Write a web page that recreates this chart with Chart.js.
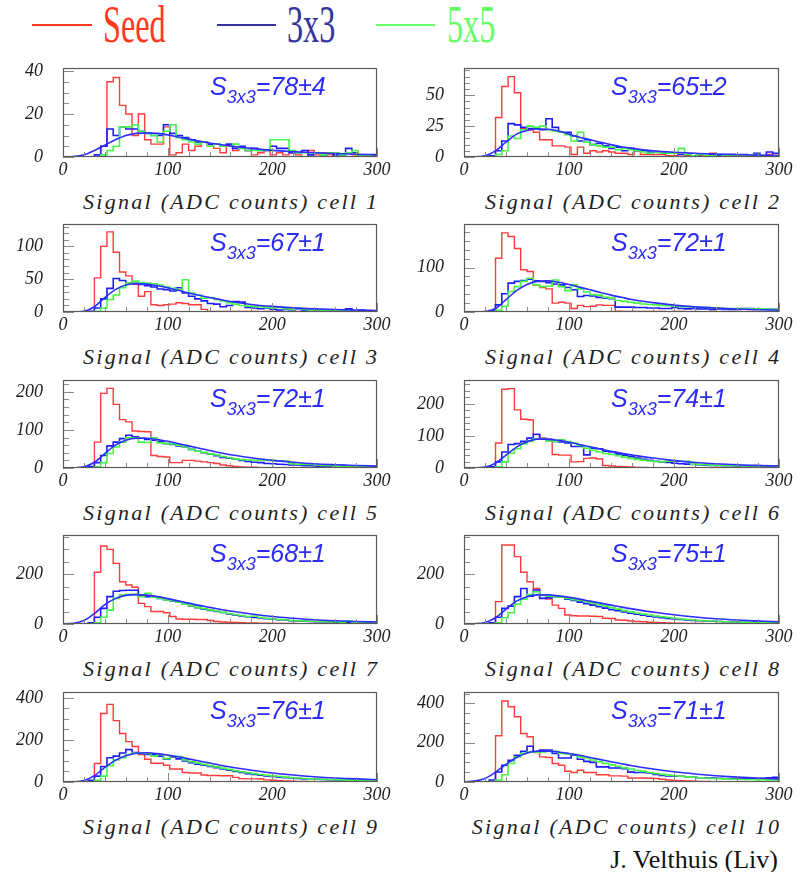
<!DOCTYPE html>
<html>
<head>
<meta charset="utf-8">
<title>Signal distributions, cells 1-10</title>
<script src="https://cdn.jsdelivr.net/npm/chart.js@4.4.1/dist/chart.umd.min.js"></script>
<style>
  html, body { margin: 0; padding: 0; background: #fff; }
  #page { position: relative; width: 799px; height: 872px; overflow: hidden; background: #fff; }
  canvas.panel { position: absolute; }
  .key-line { position: absolute; height: 2px; }
  .key-text { position: absolute; font-family: "Liberation Serif", serif; font-size: 52px; line-height: 52px;
              transform: scaleX(0.62); transform-origin: 0 0; white-space: nowrap; }
  .xtitle { position: absolute; font: italic 22px/22px "Liberation Serif", serif; color: #1e1e1e; white-space: nowrap; }
  .sig { position: absolute; font: italic 25px/25px "Liberation Sans", sans-serif; color: #2b2bf5; white-space: nowrap; }
  .sig .sub { font-size: 18px; position: relative; top: 8px; }
  .credit { position: absolute; font: 26px/26px "Liberation Serif", serif; color: #111; white-space: nowrap; }
</style>
</head>
<body>
<div id="page"></div>
<script>
// Histogram binning: 50 bins of 6 ADC counts from 0 to 300
const binEdges = [];
for (let e = 0; e <= 300; e += 6) binEdges.push(e);

// Sample positions of the fitted 3x3 curve
const fitX = [0,10,20,30,40,50,60,70,80,90,100,110,120,130,140,150,160,180,200,220,240,260,280,300];

// ---- cell 1 ----
const seed1  = [0,0,0,0,0, 0,5,35,37,24, 20,10,20,8,6, 6,14,1,2,6, 3,5,7,5,4, 2,5,3,4,3, 1,2,3,1,2, 1,2,1,0,3, 1,2,1,0,1, 2,1,0,1,0];
const sum3_1 = [0,0,0,0,0, 1,5,13,10,14, 13,13,12,11,10, 10,15,11,10,9, 8,7,7,6,6, 5,6,4,5,3, 4,3,3,5,4, 4,2,2,3,1, 2,1,2,1,1, 4,2,1,1,1];
const sum5_1 = [0,0,0,0,0, 0,1,3,5,14, 14,15,12,11,10, 7,12,15,9,8, 7,6,7,5,6, 5,5,6,4,3, 3,3,3,8,8, 8,3,2,2,2, 2,1,2,2,1, 2,3,1,1,0];
const fit1   = [0,0.2,1,3,5.5,8,10,11,11.2,11,10.3,9.3,8.3,7.4,6.5,5.8,5.1,4,3.1,2.5,2,1.6,1.3,1.1];

// ---- cell 2 ----
const seed2  = [0,0,0,0,0, 32,57,65,52,23, 22,20,14,14,9, 9,8,2,8,3, 5,4,5,4,3, 3,2,5,2,2, 2,2,1,1,2, 1,1,1,1,3, 1,1,2,1,1, 1,1,0,2,1];
const sum3_2 = [0,0,0,0,1, 5,13,27,26,24, 23,23,22,31,24, 20,20,17,13,14, 10,11,9,7,8, 5,7,5,5,4, 4,4,3,3,2, 2,1,2,1,2, 1,2,2,1,2, 1,3,1,4,3];
const sum5_2 = [0,0,0,0,0, 2,5,17,15,22, 25,24,25,22,21, 20,18,13,20,12, 10,9,8,8,6, 7,6,5,4,3, 4,3,3,3,7, 2,1,2,1,1, 2,1,1,1,1, 1,2,1,1,1];
const fit2   = [0,0.1,1,5,12,18.5,21.5,22.7,22.5,21,18.5,16,14,12,10,8.3,7,5,3.8,3,2.3,1.9,1.5,1.2];

// ---- cell 3 ----
const seed3  = [0,0,0,0,0, 52,100,122,91,61, 55,42,24,31,11, 10,11,12,14,13, 11,11,4,1,1, 1,1,1,1,1, 1,0,1,0,1, 0,0,1,0,0, 0,1,0,0,0, 1,0,0,0,0];
const sum3_3 = [0,0,0,0,1, 6,20,36,51,48, 44,46,42,40,38, 35,34,32,37,29, 24,20,17,13,12, 8,10,16,15,7, 6,5,6,4,3, 4,3,5,2,4, 3,2,3,2,2, 5,2,3,2,2];
const sum5_3 = [0,0,0,0,0, 1,6,19,26,37, 44,47,45,44,43, 41,38,36,34,49, 29,26,21,22,19, 17,14,12,10,9, 8,8,7,6,7, 5,4,6,4,3, 3,2,3,2,2, 2,2,1,2,1];
const fit3   = [0,0.1,1,8,22,34,41,43,42.5,40,37,33,29,25.5,22,19,16,11.5,8.5,6.3,4.8,3.7,2.9,2.3];

// ---- cell 4 ----
const seed4  = [0,0,0,0,0, 121,178,170,143,95, 91,60,55,52,20, 22,20,8,15,12, 13,16,15,15,2, 1,1,1,1,1, 1,1,0,1,1, 0,1,0,0,1, 0,0,1,0,0, 1,0,0,0,0];
const sum3_4 = [0,0,0,0,3, 16,41,65,69,71, 74,70,69,66,63, 61,55,50,35,37, 36,33,31,30,11, 11,11,10,10,9, 9,8,8,10,8, 7,8,7,7,6, 7,6,6,6,8, 8,7,7,6,6];
const sum5_4 = [0,0,0,0,0, 4,13,46,57,69, 76,61,57,58,72, 57,48,61,52,45, 39,38,33,31,26, 24,22,20,18,17, 16,15,14,13,12, 12,11,10,10,9, 9,8,8,8,7, 7,7,7,6,6];
const fit4   = [0,0.1,1,8,28,48,62,69,70,67,62,56,50,44,38,33,28,21,15.5,11.5,8.8,6.8,5.2,4];

// ---- cell 5 ----
const seed5  = [0,0,0,0,0, 68,196,209,167,127, 121,97,96,95,33, 30,29,14,14,20, 20,18,16,14,12, 8,6,4,3,2, 2,1,1,1,1, 1,0,1,0,0, 1,0,0,0,1, 0,0,0,0,0];
const sum3_5 = [0,0,0,0,4, 14,33,58,68,77, 86,82,78,75,73, 70,64,62,58,55, 49,44,40,36,32, 28,26,23,20,17, 15,14,12,11,10, 9,8,8,6,6, 5,5,5,4,7, 6,5,4,5,3];
const sum5_5 = [0,0,0,0,0, 3,14,38,55,68, 79,79,68,67,79, 66,64,63,60,55, 49,44,41,37,34, 30,27,24,22,21, 20,20,20,20,19, 18,11,10,9,9, 8,7,6,5,5, 4,4,3,3,2];
const fit5   = [0,0.5,3,15,38,60,73,78,78,75,70,64,58,52,46,40,35,27,20,15,11,8.5,6.5,5];

// ---- cell 6 ----
const seed6  = [0,0,0,0,0, 78,245,247,181,152, 150,104,93,90,42, 40,40,19,20,30, 31,28,8,6,5, 4,3,2,2,1, 1,1,1,0,1, 0,0,1,0,0, 0,0,1,0,0, 0,0,0,0,1];
const sum3_6 = [0,0,0,0,4, 19,50,73,76,83, 93,105,92,86,83, 81,78,67,67,41, 62,60,52,50,44, 40,35,31,27,24, 21,19,17,15,13, 12,11,10,9,8, 8,7,7,6,6, 6,8,6,5,5];
const sum5_6 = [0,0,0,0,0, 4,19,46,60,75, 83,91,90,84,83, 88,82,78,70,62, 55,50,45,42,38, 34,30,27,24,22, 20,20,21,21,21, 21,12,11,10,9, 8,8,7,7,6, 6,5,5,5,4];
const fit6   = [0,0.5,3,15,40,65,82,90,90,86,80,73,66,59,52,46,40,31,23,17,13,10,7.5,6];

// ---- cell 7 ----
const seed7  = [0,0,0,0,0, 208,314,300,244,170, 157,148,83,70,50, 50,45,30,20,19, 19,18,18,14,10, 8,7,6,5,4, 4,3,3,2,2, 2,2,1,1,1, 1,1,1,1,1, 1,0,1,0,0];
const sum3_7 = [0,0,0,0,5, 27,63,110,132,135, 136,136,112,110,108, 103,98,93,88,80, 73,66,60,55,50, 46,40,36,32,29, 26,24,21,19,17, 15,13,12,11,10, 9,8,8,7,7, 6,6,5,5,4];
const sum5_7 = [0,0,0,0,0, 5,27,56,103,117, 119,119,110,123,108, 103,97,94,88,80, 74,67,62,57,52, 47,42,38,34,30, 32,26,23,20,18, 16,14,13,12,11, 10,9,8,9,7, 12,6,6,5,5];
const fit7   = [0,3,14,42,78,102,115,118,116,110,102,93,84,75,67,59,52,40,30,23,17,13,10,8];

// ---- cell 8 ----
const seed8  = [0,0,0,0,0, 90,318,318,271,208, 170,143,103,100,76, 63,36,33,32,32, 31,30,23,22,16, 15,12,10,9,7, 6,5,4,3,3, 2,2,2,1,1, 1,1,1,0,1, 0,1,0,0,0];
const sum3_8 = [0,0,0,0,5, 27,63,72,110,143, 112,137,103,105,110, 108,100,95,88,82, 76,70,64,58,53, 48,43,39,35,31, 28,25,22,20,18, 16,14,13,12,11, 10,9,8,8,7, 7,11,6,9,5];
const sum5_8 = [0,0,0,0,0, 5,25,45,80,100, 118,130,115,112,110, 108,103,98,96,90, 84,78,72,66,60, 54,49,44,40,36, 32,29,26,23,20, 18,16,14,13,12, 10,9,8,8,7, 6,6,5,5,4];
const fit8   = [0,1,6,25,60,92,110,117,117,113,107,100,92,84,76,68,61,48,37,28,21,16,12,9];

// ---- cell 9 ----
const seed9  = [0,0,0,0,0, 88,326,369,292,231, 192,169,131,108,89, 89,80,62,62,45, 43,43,33,31,31, 30,30,22,16,15, 15,14,10,8,6, 5,4,3,3,2, 2,1,1,1,1, 1,1,0,1,0];
const sum3_9 = [0,0,0,0,8, 28,74,115,123,138, 154,140,136,131,130, 123,108,118,110,100, 92,85,80,74,68, 62,56,50,45,40, 36,32,29,26,23, 21,19,17,15,14, 13,12,11,10,9, 8,8,7,7,6];
const sum5_9 = [0,0,0,0,0, 8,28,77,105,115, 131,138,138,136,123, 131,111,120,121,105, 96,90,84,78,72, 66,60,54,49,44, 40,36,32,29,26, 23,21,19,17,15, 14,13,12,11,10, 9,9,8,8,7];
const fit9   = [0,1,7,30,70,103,125,137,139,135,128,120,110,100,90,80,71,56,43,33,25,19,15,11];

// ---- cell 10 ----
const seed10  = [0,0,0,0,0, 235,412,383,332,247, 230,150,128,125,94, 85,55,48,60,48, 48,37,37,31,31, 30,20,20,20,19, 18,14,10,8,6, 5,4,3,3,2, 2,2,1,1,1, 1,1,1,0,1];
const sum3_10 = [0,0,0,0,10, 51,85,110,136,156, 182,153,162,162,145, 122,122,136,116,105, 100,77,77,71,71, 68,50,48,48,46, 38,33,31,30,29, 27,24,22,21,20, 19,18,17,17,16, 16,16,17,22,24];
const sum5_10 = [0,0,0,0,0, 10,37,94,128,145, 153,152,153,156,156, 145,143,140,128,122, 112,103,95,87,80, 72,66,60,54,48, 43,39,35,32,29, 26,24,22,20,18, 17,16,15,14,13, 13,12,12,11,11];
const fit10   = [0,5,18,50,90,125,148,157,157,153,145,136,125,114,103,93,83,66,52,41,32,25,20,16];

// Per-cell labels, vertical ranges and labelled y ticks
const cellLabels  = ['cell 1','cell 2','cell 3','cell 4','cell 5','cell 6','cell 7','cell 8','cell 9','cell 10'];
const signalFits  = ['78±4','65±2','67±1','72±1','72±1','74±1','68±1','75±1','76±1','71±1'];
const yMax        = [41.4, 72, 134, 198, 231, 274, 358, 358, 428, 458];
const yTickValues = [[0,20,40],[0,25,50],[0,50,100],[0,100],[0,100,200],[0,100,200],[0,200],[0,200],[0,200,400],[0,200,400]];
const yMinorStep  = [5, 5, 10, 20, 20, 20, 50, 50, 50, 50];
const xTickValues = [0, 100, 200, 300];

const seedSets = [seed1, seed2, seed3, seed4, seed5, seed6, seed7, seed8, seed9, seed10];
const sum3Sets = [sum3_1, sum3_2, sum3_3, sum3_4, sum3_5, sum3_6, sum3_7, sum3_8, sum3_9, sum3_10];
const sum5Sets = [sum5_1, sum5_2, sum5_3, sum5_4, sum5_5, sum5_6, sum5_7, sum5_8, sum5_9, sum5_10];
const fitSets  = [fit1, fit2, fit3, fit4, fit5, fit6, fit7, fit8, fit9, fit10];

// ---------------- layout ----------------
const COL_LEFT  = [63, 464];
const COL_RIGHT = [377, 779];
const ROW_TOP    = [68, 224, 380, 535, 692];
const ROW_BOTTOM = [157, 312, 468, 624, 782];
const PAD_L = 60, PAD_T = 12, PAD_R = 24, PAD_B = 28;

const RED = 'rgb(255,58,58)';
const BLUE = 'rgb(28,28,255)';
const GREEN = 'rgb(70,245,70)';
const FIT = 'rgb(45,45,255)';
const tickFont = { family: '"Liberation Serif", serif', style: 'italic', size: 18 };

const page = document.getElementById('page');

function el(tag, cls, css, html) {
  const d = document.createElement(tag);
  if (cls) d.className = cls;
  Object.assign(d.style, css || {});
  if (html !== undefined) d.innerHTML = html;
  page.appendChild(d);
  return d;
}

// Legend across the top
const keys = [
  { name: 'Seed', line: '#ff3a1e', text: '#ff3a1e', x0: 32, x1: 92, tx: 103 },
  { name: '3x3',  line: '#34349c', text: '#34349c', x0: 217, x1: 276, tx: 287 },
  { name: '5x5',  line: '#66ff66', text: '#66ff66', x0: 376, x1: 435, tx: 447 }
];
keys.forEach(k => {
  el('div', 'key-line', { left: k.x0 + 'px', top: '24px', width: (k.x1 - k.x0) + 'px', background: k.line });
  el('div', 'key-text', { left: k.tx + 'px', top: '-1px', color: k.text }, k.name);
});

// Inner tick marks and frame, drawn on the library's scales
const panelFrame = {
  id: 'panelFrame',
  afterDatasetsDraw(chart, args, opts) {
    const { ctx, chartArea: a, scales: { x, y } } = chart;
    ctx.save();
    ctx.strokeStyle = '#8a8a8a';
    ctx.lineWidth = 1;
    ctx.beginPath();
    for (let v = 0; v <= 300; v += 20) {
      const px = Math.round(x.getPixelForValue(v)) + 0.5;
      const len = v % 100 === 0 ? 9 : 5;
      ctx.moveTo(px, a.bottom);
      ctx.lineTo(px, a.bottom - len);
    }
    const major = opts.majors;
    for (let v = 0; v <= y.max; v += opts.minor) {
      const py = Math.round(y.getPixelForValue(v)) + 0.5;
      const len = major.includes(v) ? 11 : 6;
      ctx.moveTo(a.left, py);
      ctx.lineTo(a.left + len, py);
    }
    ctx.stroke();
    ctx.strokeStyle = '#5a5a5a';
    ctx.lineWidth = 1.2;
    ctx.strokeRect(a.left + 0.5, a.top + 0.5, a.right - a.left - 1, a.bottom - a.top - 1);
    ctx.restore();
  }
};

function histPoints(vals) {
  return binEdges.map((x, i) => ({ x, y: vals[Math.min(i, vals.length - 1)] }));
}
function curvePoints(vals) {
  return fitX.map((x, i) => ({ x, y: vals[i] }));
}
// The frame geometry is fixed, so the scales keep no extra room around their labels
function fixX(s) { s.height = PAD_B; s.paddingLeft = 0; s.paddingRight = 0; s.paddingTop = 0; s.paddingBottom = 0; }
function fixY(s) { s.width = PAD_L; s.paddingLeft = 0; s.paddingRight = 0; s.paddingTop = 0; s.paddingBottom = 0; }

// Horizontal spacing of the axis titles
const meas = document.createElement('canvas').getContext('2d');
meas.font = 'italic 22px "Liberation Serif"';
const baseTitle = 'Signal (ADC counts) cell 1';
const titleSpacing = (294 - meas.measureText(baseTitle).width) / (baseTitle.length - 1);

for (let i = 0; i < 10; i++) {
  const col = i % 2, row = Math.floor(i / 2);
  const FL = COL_LEFT[col], FR = COL_RIGHT[col], FT = ROW_TOP[row], FB = ROW_BOTTOM[row];
  const W = FR - FL + PAD_L + PAD_R, H = FB - FT + PAD_T + PAD_B;

  const cv = document.createElement('canvas');
  cv.className = 'panel';
  cv.width = W; cv.height = H;
  cv.style.left = (FL - PAD_L) + 'px';
  cv.style.top = (FT - PAD_T) + 'px';
  cv.style.width = W + 'px'; cv.style.height = H + 'px';
  page.appendChild(cv);

  const yTicks = yTickValues[i];

  new Chart(cv, {
    type: 'line',
    data: {
      datasets: [
        { label: 'fit', data: curvePoints(fitSets[i]), borderColor: FIT, borderWidth: 1.6,
          tension: 0.4, cubicInterpolationMode: 'monotone', order: 0 },
        { label: '5x5', data: histPoints(sum5Sets[i]), borderColor: GREEN, borderWidth: 1.6, stepped: true, order: 1 },
        { label: '3x3', data: histPoints(sum3Sets[i]), borderColor: BLUE, borderWidth: 1.6, stepped: true, order: 2 },
        { label: 'Seed', data: histPoints(seedSets[i]), borderColor: RED, borderWidth: 1.4, stepped: true, order: 3 }
      ]
    },
    options: {
      responsive: false,
      maintainAspectRatio: false,
      animation: false,
      devicePixelRatio: 1,
      layout: { autoPadding: false, padding: { left: 0, top: PAD_T, right: PAD_R, bottom: 0 } },
      elements: { point: { radius: 0, hoverRadius: 0 }, line: { fill: false } },
      events: [],
      plugins: {
        legend: { display: false },
        tooltip: { enabled: false },
        panelFrame: { majors: yTicks, minor: yMinorStep[i] }
      },
      scales: {
        x: {
          type: 'linear', min: 0, max: 300,
          grid: { display: false, drawTicks: false },
          border: { display: false },
          ticks: { padding: 2, maxRotation: 0, autoSkip: false, font: tickFont, color: '#1e1e1e' },
          afterBuildTicks: s => { s.ticks = xTickValues.map(v => ({ value: v })); },
          afterFit: fixX
        },
        y: {
          type: 'linear', min: 0, max: yMax[i],
          grid: { display: false, drawTicks: false },
          border: { display: false },
          ticks: { padding: 20, autoSkip: false, font: tickFont, color: '#1e1e1e' },
          afterBuildTicks: s => { s.ticks = yTicks.map(v => ({ value: v })); },
          afterFit: fixY
        }
      }
    },
    plugins: [panelFrame]
  });

  // Fitted signal value in the upper part of the frame
  el('div', 'sig', { left: (FL + 147) + 'px', top: (FT + 6) + 'px' },
     'S<span class="sub">3x3</span>=' + signalFits[i]);

  // Axis title, right-aligned to the frame
  el('div', 'xtitle', { right: (799 - FR - titleSpacing) + 'px', top: (FB + 34) + 'px',
                        letterSpacing: titleSpacing + 'px' },
     'Signal (ADC counts) ' + cellLabels[i]);
}

el('div', 'credit', { right: '21px', top: '847px' }, 'J. Velthuis (Liv)');
</script>
</body>
</html>
